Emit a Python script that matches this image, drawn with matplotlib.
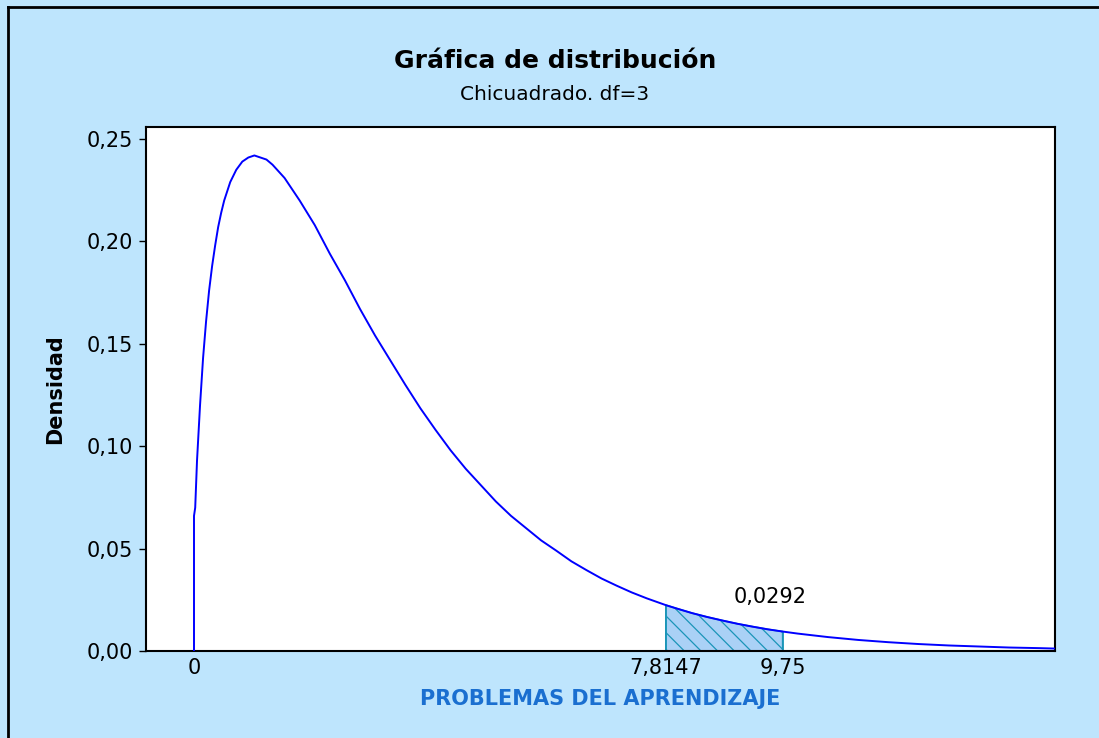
import matplotlib.pyplot as plt
from matplotlib.lines import Line2D

# curva de densidad (chi-cuadrado, df=3)
x_vals = [0.0, 0.0, 0.02, 0.05, 0.1, 0.15, 0.2, 0.25, 0.3, 0.35, 0.4, 0.45, 0.5,
          0.6, 0.7, 0.8, 0.9, 1.0, 1.1, 1.2, 1.3, 1.5, 1.75, 2.0, 2.25, 2.5,
          2.75, 3.0, 3.25, 3.5, 3.75, 4.0, 4.25, 4.5, 4.75, 5.0, 5.25, 5.5,
          5.75, 6.0, 6.25, 6.5, 6.75, 7.0, 7.25, 7.5, 7.8147, 8.0, 8.25, 8.5,
          8.75, 9.0, 9.25, 9.5, 9.75, 10.0, 10.5, 11.0, 11.5, 12.0, 12.5,
          13.0, 13.5, 14.0, 14.25]
y_vals = [0.0, 0.066, 0.070, 0.093, 0.120, 0.143, 0.161, 0.176, 0.188, 0.198,
          0.207, 0.214, 0.220, 0.229, 0.235, 0.239, 0.241, 0.242, 0.241, 0.240,
          0.2375, 0.231, 0.220, 0.208, 0.194, 0.181, 0.167, 0.154, 0.142,
          0.130, 0.1185, 0.108, 0.098, 0.089, 0.081, 0.073, 0.066, 0.060,
          0.054, 0.049, 0.0438, 0.0395, 0.0354, 0.0319, 0.0286, 0.0257,
          0.0224, 0.0207, 0.0185, 0.0166, 0.0149, 0.0133, 0.0119, 0.0106,
          0.0095, 0.0085, 0.0068, 0.0054, 0.0043, 0.0034, 0.0027, 0.0022,
          0.0017, 0.0014, 0.0012]

area_lo = 7.8147
area_hi = 9.75
area_label = "0,0292"
tick_vals = [0, 7.8147, 9.75]
tick_labels = ["0", "7,8147", "9,75"]
ytick_vals = [0.0, 0.05, 0.10, 0.15, 0.20, 0.25]
ytick_labels = ["0,00", "0,05", "0,10", "0,15", "0,20", "0,25"]

bg = "#bee5fd"
plt.rcParams['font.family'] = ['DejaVu Sans']
plt.rcParams['hatch.color'] = "#1b95b8"
plt.rcParams['hatch.linewidth'] = 0.9

fig = plt.figure(figsize=(10.99, 7.38), dpi=100, facecolor=bg)
ax = fig.add_axes([146/1099, 1-651/738, (1055-146)/1099, (651-127)/738])
ax.set_facecolor("white")

ax.plot(x_vals, y_vals, color="#0000ff", lw=1.4, zorder=3)

# area sombreada
xs = [x for x in x_vals if area_lo <= x <= area_hi]
ys = [y for x, y in zip(x_vals, y_vals) if area_lo <= x <= area_hi]
ax.fill_between(xs, ys, 0, facecolor="#aad1f6", edgecolor="#1b95b8",
                hatch="\\\\", lw=1.2, zorder=2)
ax.vlines([area_lo, area_hi], 0, [ys[0], ys[-1]], color="#1b95b8", lw=1.2, zorder=2)
ax.text(9.54, 0.0215, area_label, ha="center", va="bottom", fontsize=15)

ax.set_xlim(-0.795, 14.26)
ax.set_ylim(0, 0.2559)
ax.set_xticks(tick_vals)
ax.set_xticklabels(tick_labels, fontsize=15)
ax.tick_params(axis="x", length=0, pad=5)
ax.set_yticks(ytick_vals)
ax.set_yticklabels(ytick_labels, fontsize=15)
ax.tick_params(axis="y", length=5, width=1, pad=4)
for s in ax.spines.values():
    s.set_linewidth(1.5)

ax.set_xlabel("PROBLEMAS DEL APRENDIZAJE", fontsize=15, fontweight="bold",
              color="#1a6fd0", labelpad=8)
ax.set_ylabel("Densidad", fontsize=15, fontweight="bold", labelpad=16)

fig.text(0.505, 1-61/738, "Gráfica de distribución", ha="center", va="center",
         fontsize=18, fontweight="bold")
fig.text(0.505, 1-94/738, "Chicuadrado. df=3", ha="center", va="center", fontsize=14.5)

# borde del marco
fig.add_artist(Line2D([8/1099, 8/1099], [0, 1-7/738], color="black", lw=2,
                      transform=fig.transFigure))
fig.add_artist(Line2D([8/1099, 1], [1-7/738, 1-7/738], color="black", lw=2,
                      transform=fig.transFigure))

fig.savefig("out.png", dpi=100, facecolor=bg)
